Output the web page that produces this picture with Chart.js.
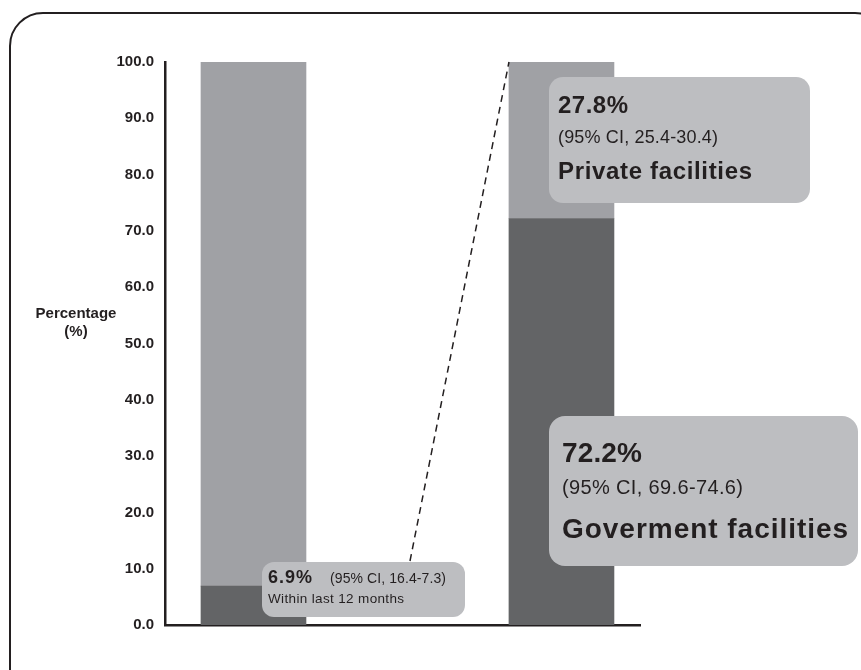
<!DOCTYPE html>
<html>
<head>
<meta charset="utf-8">
<script src="https://cdn.jsdelivr.net/npm/chart.js@4.4.1/dist/chart.umd.min.js"></script>
<style>
  html, body { margin: 0; padding: 0; background: #fff; overflow: hidden; }
  #wrap { position: relative; width: 861px; height: 670px; overflow: hidden; }
  #frame { position: absolute; left: 9px; top: 12px; width: 880px; height: 700px;
           border: 2.5px solid #231f20; border-radius: 34px; box-sizing: border-box; }
  canvas { position: absolute; left: 0; top: 0; }
</style>
</head>
<body>
<div id="wrap">
  <div id="frame"></div>
  <canvas id="chart" width="861" height="670"></canvas>
</div>
<script>
// two bars: all respondents vs. within last 12 months
const categories = ['Overall', 'Within last 12 months'];
const barPositions = [1, 2];
const govValues = [6.9, 72.2];
const privateValues = [93.1, 27.8];
const yTicks = [0, 10, 20, 30, 40, 50, 60, 70, 80, 90, 100];

const ink = '#231f20';
const FONT = '"Liberation Sans", Arial, sans-serif';

function roundBox(ctx, x0, y0, x1, y1, r) {
    ctx.beginPath();
    ctx.roundRect(x0, y0, x1 - x0, y1 - y0, r);
    ctx.fillStyle = '#bdbec1';
    ctx.fill();
}

// draw text, spreading letters a little so it fills the width seen in the original
function txt(ctx, s, x, y, size, bold, fitW) {
    ctx.font = (bold ? 'bold ' : '') + size + 'px ' + FONT;
    ctx.fillStyle = ink;
    ctx.textAlign = 'left';
    ctx.textBaseline = 'alphabetic';
    ctx.letterSpacing = '0px';
    if (fitW) {
        const w = ctx.measureText(s).width;
        const sp = Math.max(0, (fitW - w) / Math.max(1, s.length - 1));
        ctx.letterSpacing = sp.toFixed(2) + 'px';
    }
    ctx.fillText(s, x, y);
    ctx.letterSpacing = '0px';
}

const extras = {
    id: 'extras',
    afterDraw(chart) {
        const ctx = chart.ctx;
        const ys = chart.scales.y;
        ctx.save();

        // y axis title
        ctx.font = 'bold 15px ' + FONT;
        ctx.fillStyle = ink;
        ctx.textAlign = 'center';
        ctx.fillText('Percentage', 76, 318);
        ctx.fillText('(%)', 76, 336);

        // dashed connector to the top-left corner of the right bar
        const bar = chart.getDatasetMeta(1).data[1];
        const tx = bar.x - bar.width / 2;
        const ty = ys.getPixelForValue(govValues[1] + privateValues[1]);
        ctx.beginPath();
        ctx.setLineDash([7, 5]);
        ctx.lineWidth = 1.5;
        ctx.strokeStyle = ink;
        ctx.moveTo(410, 561);
        ctx.lineTo(tx, ty);
        ctx.stroke();
        ctx.setLineDash([]);

        roundBox(ctx, 262, 562, 465, 617, 12);
        txt(ctx, govValues[0] + '%', 268, 583, 18, true, 44);
        txt(ctx, '(95% CI, 16.4-7.3)', 330, 583, 14, false, 116);
        txt(ctx, 'Within last 12 months', 268, 603, 13.5, false, 136);

        roundBox(ctx, 549, 77, 810, 203, 14);
        txt(ctx, privateValues[1] + '%', 558, 113, 24, true, 70);
        txt(ctx, '(95% CI, 25.4-30.4)', 558, 143, 18, false, 160);
        txt(ctx, 'Private facilities', 558, 179, 24, true, 194);

        roundBox(ctx, 549, 416, 858, 566, 16);
        txt(ctx, govValues[1] + '%', 562, 462, 28, true, 80);
        txt(ctx, '(95% CI, 69.6-74.6)', 562, 494, 20, false, 181);
        txt(ctx, 'Goverment facilities', 562, 538, 28, true, 286);

        ctx.restore();
    }
};

new Chart(document.getElementById('chart').getContext('2d'), {
    type: 'bar',
    data: {
        datasets: [{
            label: 'Goverment facilities',
            data: barPositions.map((x, i) => ({ x: x, y: govValues[i] })),
            backgroundColor: '#636466',
            barThickness: 105
        }, {
            label: 'Private facilities',
            data: barPositions.map((x, i) => ({ x: x, y: privateValues[i] })),
            backgroundColor: '#a0a1a5',
            barThickness: 105
        }]
    },
    options: {
        responsive: false,
        animation: false,
        layout: { padding: { left: 0, right: 221, top: 62, bottom: 45 } },
        plugins: { legend: { display: false }, tooltip: { enabled: false } },
        scales: {
            x: {
                type: 'linear',
                stacked: true,
                offset: false,
                min: 0.7127,
                max: 2.255,
                grid: { display: false, drawTicks: false },
                ticks: { display: false },
                border: { display: true, color: ink, width: 2.5 }
            },
            y: {
                stacked: true,
                min: 0,
                max: 100,
                afterFit: s => { s.width = 165; },
                afterBuildTicks: s => { s.ticks = yTicks.map(v => ({ value: v })); },
                grid: { display: false, drawTicks: false },
                border: { display: true, color: ink, width: 2.5 },
                ticks: {
                    padding: 11,
                    color: ink,
                    font: { family: FONT, size: 15, weight: 'bold' },
                    callback: v => v.toFixed(1)
                }
            }
        }
    },
    plugins: [extras]
});
</script>
</body>
</html>
